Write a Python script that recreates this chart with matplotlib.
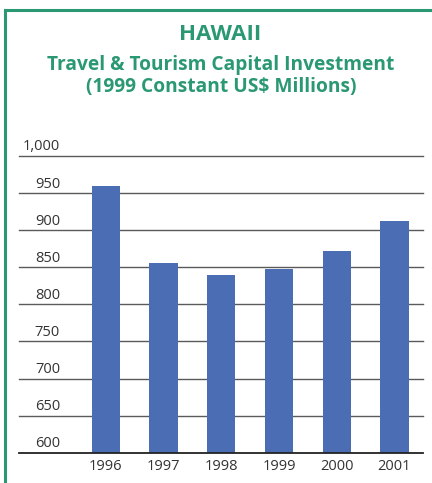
import matplotlib
matplotlib.use("Agg")
import matplotlib.pyplot as plt
from matplotlib.lines import Line2D
from matplotlib.transforms import blended_transform_factory

years = ["1996", "1997", "1998", "1999", "2000", "2001"]
investment = [960, 856, 839, 847, 872, 913]
y_ticks = [600, 650, 700, 750, 800, 850, 900, 950, 1000]
y_tick_labels = ["600", "650", "700", "750", "800", "850", "900", "950", "1,000"]

title = "HAWAII"
subtitle = ["Travel & Tourism Capital Investment", "(1999 Constant US$ Millions)"]

GREEN = "#2a9873"
BAR = "#4a6db4"
W, H = 432, 483
DPI = 100

plt.rcParams["font.family"] = ["Open Sans", "DejaVu Sans"]

fig = plt.figure(figsize=(W / DPI, H / DPI), dpi=DPI)
fig.patch.set_facecolor("white")

# page frame: top rule and left rule
fig.add_artist(Line2D([5 / W, 1.0], [1 - 9.5 / H, 1 - 9.5 / H], color=GREEN, lw=2.2,
                      transform=fig.transFigure))
fig.add_artist(Line2D([5 / W, 5 / W], [0.0, 1 - 9.5 / H], color=GREEN, lw=2.2,
                      transform=fig.transFigure))

# titles
fig.text(0.5 + 4 / W, 1 - 40 / H, title, ha="center", va="baseline",
         fontsize=16, fontweight="bold", color=GREEN)
fig.text(0.5 + 5 / W, 1 - 69.5 / H, subtitle[0], ha="center", va="baseline",
         fontsize=13.8, fontweight="bold", color=GREEN)
fig.text(0.5 + 5 / W, 1 - 92 / H, subtitle[1], ha="center", va="baseline",
         fontsize=13.8, fontweight="bold", color=GREEN)

left, right = 19.3 / W, 423.3 / W
bottom, top = 1 - 452.7 / H, 1 - 156 / H
ax = fig.add_axes([left, bottom, right - left, top - bottom])

x = list(range(len(years)))
ax.bar(x, investment, width=0.49, color=BAR, zorder=3)

ax.set_xlim(-1.5, 5.5)
ax.set_ylim(600, 1000)

for v in y_ticks[1:]:
    ax.axhline(v, color="#5a5a5a", lw=1.0, zorder=1, clip_on=False)
ax.axhline(600, color="#222222", lw=1.3, zorder=4, clip_on=False)

for s in ax.spines.values():
    s.set_visible(False)
ax.set_yticks([])
ax.set_xticks(x)
ax.set_xticklabels(years, fontsize=10.5, color="#333333")
ax.tick_params(axis="x", length=0, pad=4.5)

# value labels sit just above their grid line
trans = blended_transform_factory(ax.transAxes, ax.transData)
for v, lab in zip(y_ticks, y_tick_labels):
    ax.text((60 - 19.3) / (423.3 - 19.3), v + 7.5, lab, transform=trans,
            ha="right", va="baseline", fontsize=10.5, color="#333333")

fig.savefig("out.png", dpi=DPI, facecolor="white")
